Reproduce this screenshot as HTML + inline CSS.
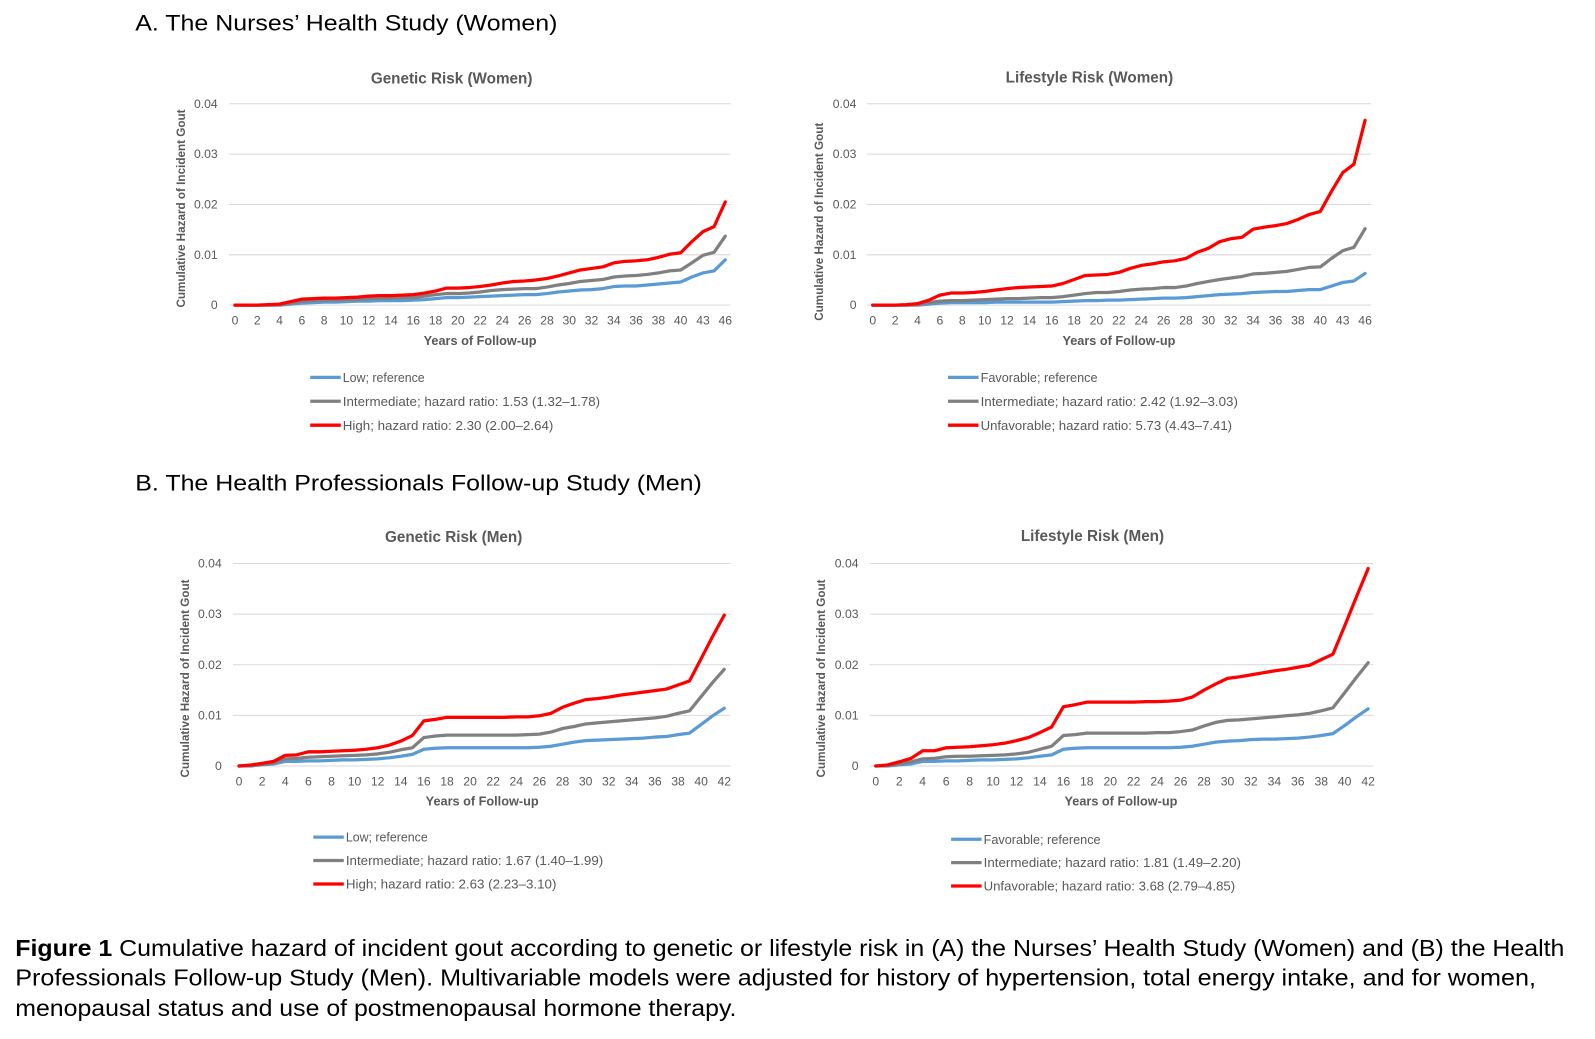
<!DOCTYPE html>
<html><head><meta charset="utf-8"><style>
html,body{margin:0;padding:0;background:#fff;}
svg{display:block;font-family:"Liberation Sans",Arial,sans-serif;}
</style></head><body>
<svg id="fig" width="1595" height="1039" viewBox="0 0 1595 1039" xmlns="http://www.w3.org/2000/svg">
<g id="root" transform="scale(1.0172)">
<text x="133" y="30" font-size="22" fill="#000" textLength="415" lengthAdjust="spacingAndGlyphs">A. The Nurses’ Health Study (Women)</text>
<text x="133" y="482" font-size="22" fill="#000" textLength="557" lengthAdjust="spacingAndGlyphs">B. The Health Professionals Follow-up Study (Men)</text>
<g font-size="23" fill="#000">
<text x="15" y="940" textLength="1523" lengthAdjust="spacingAndGlyphs"><tspan font-weight="bold">Figure 1</tspan> Cumulative hazard of incident gout according to genetic or lifestyle risk in (A) the Nurses’ Health Study (Women) and (B) the Health</text>
<text x="15" y="969" textLength="1495" lengthAdjust="spacingAndGlyphs">Professionals Follow-up Study (Men). Multivariable models were adjusted for history of hypertension, total energy intake, and for women,</text>
<text x="15" y="999" textLength="709" lengthAdjust="spacingAndGlyphs">menopausal status and use of postmenopausal hormone therapy.</text>
</g>
</g>
</svg>
<script>
// ---- data ----
const catsWomen = [0,1,2,3,4,5,6,7,8,9,10,11,12,13,14,15,16,17,18,19,20,21,22,23,24,25,26,27,28,29,30,31,32,33,34,35,36,37,38,39,40,42,43,45,46];
const catsMen = [0,1,2,3,4,5,6,7,8,9,10,11,12,13,14,15,16,17,18,19,20,21,22,23,24,25,26,27,28,29,30,31,32,33,34,35,36,37,38,39,40,41,42];
const yTicks = [0,0.01,0.02,0.03,0.04];
const yTickLabels = ["0","0.01","0.02","0.03","0.04"];

const gwLow = [0,0,0,0,0,.2,.4,.5,.6,.6,.7,.8,.8,.9,.9,.9,1.0,1.1,1.3,1.5,1.5,1.6,1.7,1.8,1.9,2.0,2.1,2.1,2.3,2.6,2.8,3.0,3.1,3.3,3.7,3.8,3.8,4.0,4.2,4.4,4.6,5.6,6.4,6.8,9.0];
const gwInt = [0,0,0,0,.1,.4,.8,.9,1.0,1.0,1.1,1.2,1.3,1.4,1.4,1.5,1.5,1.8,2.1,2.3,2.3,2.4,2.6,2.9,3.1,3.2,3.3,3.3,3.6,4.0,4.3,4.7,4.9,5.1,5.6,5.8,5.9,6.1,6.4,6.8,7.0,8.4,9.9,10.5,13.7];
const gwHigh = [0,0,0,.1,.2,.7,1.2,1.3,1.4,1.4,1.5,1.6,1.8,1.9,1.9,2.0,2.1,2.4,2.8,3.4,3.4,3.5,3.7,4.0,4.4,4.7,4.8,5.0,5.3,5.8,6.4,7.0,7.3,7.6,8.4,8.7,8.8,9.0,9.5,10.1,10.4,12.6,14.6,15.6,20.5];

const lwFav = [0,0,0,0,0,.2,.4,.5,.5,.5,.5,.6,.6,.6,.6,.6,.6,.7,.8,.9,.9,1.0,1.0,1.1,1.2,1.3,1.4,1.4,1.5,1.7,1.9,2.1,2.2,2.3,2.5,2.6,2.7,2.7,2.9,3.1,3.1,3.8,4.5,4.8,6.3];
const lwInt = [0,0,0,0,.1,.5,.8,.9,.9,1.0,1.1,1.2,1.3,1.3,1.4,1.5,1.5,1.7,2.0,2.3,2.5,2.5,2.7,3.0,3.2,3.3,3.5,3.5,3.8,4.3,4.7,5.1,5.4,5.7,6.2,6.3,6.5,6.7,7.1,7.5,7.6,9.3,10.8,11.5,15.2];
const lwUnf = [0,0,0,.1,.3,1.0,2.0,2.4,2.4,2.5,2.7,3.0,3.3,3.5,3.6,3.7,3.8,4.3,5.1,5.9,6.0,6.1,6.5,7.3,7.9,8.2,8.6,8.8,9.3,10.5,11.3,12.6,13.2,13.5,15.1,15.5,15.8,16.2,17.0,18.0,18.6,22.6,26.3,28.0,36.7];

const gmLow = [0,0,.2,.4,.9,.9,1.0,1.0,1.1,1.2,1.2,1.3,1.4,1.6,1.9,2.3,3.3,3.5,3.6,3.6,3.6,3.6,3.6,3.6,3.6,3.6,3.7,3.9,4.3,4.7,5.0,5.1,5.2,5.3,5.4,5.5,5.7,5.8,6.2,6.5,8.2,9.9,11.4];
const gmInt = [0,.1,.3,.6,1.4,1.5,1.7,1.8,1.9,2.0,2.1,2.2,2.4,2.7,3.2,3.6,5.6,5.9,6.1,6.1,6.1,6.1,6.1,6.1,6.1,6.2,6.3,6.7,7.4,7.8,8.3,8.5,8.7,8.9,9.1,9.3,9.5,9.8,10.4,10.9,13.7,16.5,19.1];
const gmHigh = [0,.2,.5,.9,2.1,2.2,2.8,2.8,2.9,3.0,3.1,3.3,3.6,4.1,4.9,6.0,8.9,9.2,9.6,9.6,9.6,9.6,9.6,9.6,9.7,9.7,9.9,10.4,11.6,12.4,13.1,13.3,13.6,14.0,14.3,14.6,14.9,15.2,16.0,16.8,21.2,25.6,29.8];

const lmFav = [0,0,.2,.4,.9,.9,1.0,1.0,1.1,1.2,1.2,1.3,1.4,1.6,1.9,2.2,3.3,3.5,3.6,3.6,3.6,3.6,3.6,3.6,3.6,3.6,3.7,3.9,4.3,4.7,4.9,5.0,5.2,5.3,5.3,5.4,5.5,5.7,6.0,6.4,8.0,9.7,11.3];
const lmInt = [0,.1,.4,.8,1.4,1.5,1.8,1.9,1.9,2.0,2.1,2.2,2.4,2.7,3.3,3.9,6.0,6.2,6.5,6.5,6.5,6.5,6.5,6.5,6.6,6.6,6.8,7.1,7.9,8.6,9.0,9.1,9.3,9.5,9.7,9.9,10.1,10.4,10.9,11.5,14.5,17.5,20.4];
const lmUnf = [0,.2,.8,1.5,3.0,3.0,3.6,3.7,3.8,4.0,4.2,4.5,5.0,5.6,6.6,7.7,11.7,12.1,12.6,12.6,12.6,12.6,12.6,12.7,12.7,12.8,13.0,13.6,15.0,16.2,17.3,17.6,18.0,18.4,18.8,19.1,19.5,19.9,21.0,22.1,27.7,33.4,39.0];

const legGW = ["Low; reference","Intermediate; hazard ratio: 1.53 (1.32–1.78)","High; hazard ratio: 2.30 (2.00–2.64)"];
const legLW = ["Favorable; reference","Intermediate; hazard ratio: 2.42 (1.92–3.03)","Unfavorable; hazard ratio: 5.73 (4.43–7.41)"];
const legGM = ["Low; reference","Intermediate; hazard ratio: 1.67 (1.40–1.99)","High; hazard ratio: 2.63 (2.23–3.10)"];
const legLM = ["Favorable; reference","Intermediate; hazard ratio: 1.81 (1.49–2.20)","Unfavorable; hazard ratio: 3.68 (2.79–4.85)"];

// ---- drawing ----
const NS="http://www.w3.org/2000/svg";
const svg=document.getElementById('root');
const COLORS=["#5B9BD5","#808080","#FF0000"];
function mk(tag,attrs,parent){const e=document.createElementNS(NS,tag);for(const k in attrs)e.setAttribute(k,attrs[k]);(parent||svg).appendChild(e);return e;}

function drawChart(o){
  const g=mk('g',{});
  
  
  const n=o.cats.length;
  const xs=i=>o.x0+(o.x1-o.x0)*i/(n-1);
  const ys=v=>o.yb+(o.yt-o.yb)*(v/0.04);
  const t=mk('text',{x:o.tx,y:o.ty,'font-size':15,'font-weight':'bold',fill:'#595959','text-anchor':'middle'},g);
  t.textContent=o.title;
  
  
  yTicks.forEach((v,i)=>{
    const gl=mk('line',{x1:o.gx0,x2:o.gx1,y1:ys(v),y2:ys(v),stroke:'#d9d9d9','stroke-width':1},g);
    
    
    const tl=mk('text',{x:o.ylx,y:ys(v)+4,'font-size':12,fill:'#595959','text-anchor':'end'},g);
    tl.textContent=yTickLabels[i];
    
    
  });
  o.cats.forEach((c,i)=>{
    if(i%2) return;
    const xl=mk('text',{x:xs(i),y:o.yb+19,'font-size':12,fill:'#595959','text-anchor':'middle'},g);
    xl.textContent=c;
    
    
  });
  const xt=mk('text',{x:o.xtx,y:o.yb+39,'font-size':12.5,'font-weight':'bold',fill:'#595959','text-anchor':'middle'},g);
  xt.textContent="Years of Follow-up";
  
  
  const yt=mk('text',{x:0,y:0,'font-size':11.5,'font-weight':'bold',fill:'#595959','text-anchor':'middle',transform:`translate(${o.ytx},${o.yty}) rotate(-90)`},g);
  yt.textContent="Cumulative Hazard of Incident Gout";
  
  
  o.series.forEach((s,k)=>{
    const pts=s.map((v,i)=>xs(i).toFixed(1)+','+ys(v/1000).toFixed(1)).join(' ');
    const pl=mk('polyline',{points:pts,fill:'none',stroke:COLORS[k],'stroke-width':3.2,'stroke-linejoin':'round','stroke-linecap':'round'},g);
    
    
  });
  o.legend.forEach((lab,k)=>{
    const ly=o.ly+k*o.lstep;
    const ll=mk('line',{x1:o.lx,x2:o.lx+30,y1:ly,y2:ly,stroke:COLORS[k],'stroke-width':3.2},g);
    
    
    const lt=mk('text',{x:o.lx+32,y:ly+4.5,'font-size':12.5,fill:'#595959',textLength:lab.length*5.75,lengthAdjust:'spacingAndGlyphs'},g);
    lt.textContent=lab;
    
    
  });
}

drawChart({name:'chart-genetic-women',title:'Genetic Risk (Women)',cats:catsWomen,series:[gwLow,gwInt,gwHigh],legend:legGW,
  x0:231,x1:713,yt:102,yb:300,gx0:225,gx1:718,ylx:214,tx:444,ty:82,xtx:472,ytx:182,yty:205,lx:305,ly:371,lstep:23.5});
drawChart({name:'chart-lifestyle-women',title:'Lifestyle Risk (Women)',cats:catsWomen,series:[lwFav,lwInt,lwUnf],legend:legLW,
  x0:858,x1:1342,yt:102,yb:300,gx0:852,gx1:1348,ylx:842,tx:1071,ty:81,xtx:1100,ytx:809,yty:218,lx:932,ly:371,lstep:23.5});
drawChart({name:'chart-genetic-men',title:'Genetic Risk (Men)',cats:catsMen,series:[gmLow,gmInt,gmHigh],legend:legGM,
  x0:235,x1:712,yt:554,yb:753,gx0:229,gx1:718,ylx:218,tx:446,ty:533,xtx:474,ytx:186,yty:667,lx:308,ly:823,lstep:23});
drawChart({name:'chart-lifestyle-men',title:'Lifestyle Risk (Men)',cats:catsMen,series:[lmFav,lmInt,lmUnf],legend:legLM,
  x0:861,x1:1345,yt:554,yb:753,gx0:855,gx1:1350,ylx:844,tx:1074,ty:532,xtx:1102,ytx:811,yty:667,lx:935,ly:825,lstep:23});
</script>
</body></html>
